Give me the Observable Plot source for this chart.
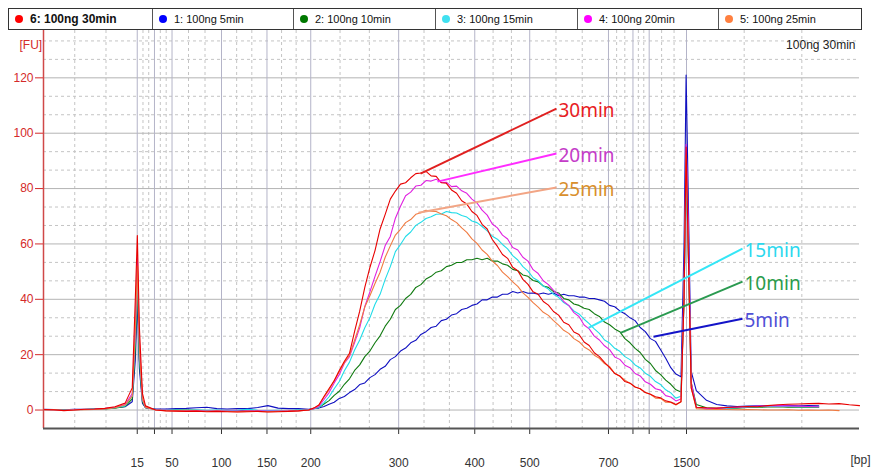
<!DOCTYPE html>
<html><head><meta charset="utf-8">
<script src="https://cdn.jsdelivr.net/npm/d3@7"></script>
<script src="https://cdn.jsdelivr.net/npm/@observablehq/plot@0.6"></script>
<style>
body{margin:0;background:#fff;width:871px;height:471px;overflow:hidden;font-family:"Liberation Sans",Arial,sans-serif}
#legend{position:relative;height:30px;width:871px}
#bar{position:absolute;left:8px;top:8px;width:854px;height:22px;border:1px solid #333;box-sizing:border-box;display:flex}
.cell{box-sizing:border-box;height:20px;border-right:1px solid #555;display:flex;align-items:center;font-size:11px;color:#111;white-space:nowrap}
.cell:last-child{border-right:none;flex:1}
.dot{display:inline-block;width:8px;height:8px;border-radius:50%;margin-left:6px;margin-right:7px}
#chart svg{display:block}
</style></head>
<body>
<div id="legend"><div id="bar"></div></div>
<div id="chart"></div>
<script>
// ---- data ----
const legendLabels = ["6: 100ng 30min","1: 100ng 5min","2: 100ng 10min","3: 100ng 15min","4: 100ng 20min","5: 100ng 25min"];
const legendColors = ["#ff0000","#0000ff","#007800","#40e0f0","#ff00ff","#ff8040"];
const legendWidths = [144,141,142,142,141,0];

const ladderSize  = [15,25,50,100,150,200,300,400,500,700,850,1000,1500];
const ladderTime  = [29.19,30.88,32.6,37.45,41.91,46.2,54.82,62.28,67.67,75.39,77.79,79.38,83.04];
const ladderLabel = ["15","","50","100","150","200","300","400","500","700","","","1500"];
const yTicks = [0,20,40,60,80,100,120];

const times = [
20,21,22,23,24,25,26,27,28,28.7,
29,29.2,29.4,29.7,30,31,32,33,34,35,
36,37,38,39,40,41,42,43,44,45,
46,46.5,47,47.5,48,48.5,49,49.5,50,50.5,
51,51.5,52,52.5,53,53.5,54,54.5,55,55.5,
56,56.5,57,57.5,58,58.5,59,59.5,60,60.5,
61,61.5,62,62.5,63,63.5,64,64.5,65,65.5,
66,66.5,67,67.5,68,68.5,69,69.5,70,70.5,
71,71.5,72,72.5,73,73.5,74,74.5,75,75.5,
76,76.5,77,77.5,78,78.5,79,79.5,80,80.5,
81,81.5,82,
82.5,82.8,83,83.2,83.5,84,
85,86,87,88,89,90,91,92,93,94,95,96,97,98,99,100];

const fu30 = [
0.2,0.1,-0.2,0,0.3,0.4,0.6,1.2,2.5,8,
40,63,30,6,1.5,0,-0.3,-0.4,-0.5,-0.4,
-0.6,-0.5,-0.6,-0.7,-0.6,-0.5,-0.7,-0.6,-0.5,-0.3,
0,0.7,1.8,4.9,7.8,10.6,14.3,17.6,20.5,28.4,
35.7,44.3,51.5,57.6,65.4,70.7,76.2,79.1,81.6,82.1,
83.9,85.4,85.6,86.2,84.6,84.4,82.1,81.9,79.5,78.3,
75.6,74.4,71.7,70.3,67.1,65.4,61.6,59.1,56.2,54.8,
51.6,50.3,47.2,45.4,42.7,41.8,39.2,37.9,35.6,34.3,
31.7,30.8,28.2,27.3,24.6,23.3,20.7,19.3,17.2,15.3,
13.2,12.3,10.3,9.7,8.3,7.7,6.3,5.7,4.8,4.4,
3.3,2.9,2,
3,40,95,60,8,1,
0.8,0.7,0.9,1.1,1.3,1.2,1.6,1.9,2.1,2.2,2.3,2.4,2.2,2.3,1.9,1.6];

const fu20 = [
0.1,0,-0.1,0.1,0.2,0.3,0.5,1,2,6,
30,55,25,4,1,0.1,0,-0.2,-0.3,-0.2,
-0.4,-0.3,-0.4,-0.4,-0.3,-0.3,-0.4,-0.4,-0.3,-0.2,
0,0.5,1.3,3.8,6.3,9.8,12.8,16.9,19.3,24.4,
29.7,37.4,42.7,48.3,53.6,59.4,62.7,69.3,73.6,77.4,
78.7,80.9,81.2,82.9,82.7,83.4,82.2,82.3,80.7,80.9,
79.2,78.3,76.2,74.8,72.2,70.4,67.2,65.8,63.2,61.8,
58.7,57.8,55.2,53.8,50.7,49.3,46.7,45.3,43.2,41.8,
39.2,37.8,35.2,33.8,30.7,29.3,26.7,25.3,23.2,21.8,
19.2,18.3,16.2,15.3,13.2,12.3,10.2,9.3,7.7,7.2,
5.2,4.7,3.3,
4,45,96,70,10,1,
0.5,0.6,0.8,1.0,1.2,1.4,1.5,1.6,1.5,1.4,1.3,1.2,null,null,null,null];

const fu25 = [
0,0.1,-0.1,0,0.1,0.2,0.4,0.8,1.8,5,
28,52,22,4,1,0,-0.2,-0.3,-0.4,-0.4,
-0.5,-0.4,-0.5,-0.6,-0.5,-0.5,-0.6,-0.5,-0.4,-0.3,
0,0.7,1.8,4.7,7.3,10.7,13.8,17.2,19.8,25.2,
30.8,37.2,41.3,45.7,49.8,55.2,59.3,63.2,65.3,67.7,
68.8,70.7,71.3,72.2,71.8,71.7,70.8,70.2,68.8,67.7,
65.8,64.2,61.8,60.2,57.8,56.2,53.8,52.2,49.8,48.2,
46.3,44.7,42.3,40.7,38.8,37.2,35.3,34.2,32.3,30.7,
28.8,27.7,25.8,24.7,22.8,21.7,19.8,18.7,16.8,15.7,
13.3,12.2,10.8,9.7,8.3,7.7,6.3,5.7,4.3,4.2,
2.8,2.7,1.8,
3,42,92,60,8,0.5,
0.3,0.2,0.2,0.1,0.2,0.1,0,0,0.1,-0.1,0,-0.1,0,-0.2,null,null];

const fu15 = [
0.1,0.2,0,0.1,0.2,0.3,0.4,0.8,1.5,5,
26,50,20,3.5,1,0.2,0.1,0,-0.1,0,
-0.1,0,-0.2,-0.1,0.3,-0.1,-0.2,-0.1,-0.2,0,
0,0.5,0.9,2.7,4.8,7.7,10.3,14.2,17.3,21.7,
25.3,29.7,33.3,38.2,41.8,47.2,51.8,57.2,59.8,62.7,
64.3,66.7,67.8,69.2,69.8,70.7,70.8,71.7,71.3,71.2,
70.3,69.7,68.3,67.7,66.3,64.7,62.8,61.7,59.8,58.2,
55.8,54.2,51.8,50.2,47.8,46.7,44.8,43.7,41.8,40.7,
38.8,37.7,35.8,34.7,32.8,31.2,29.3,27.7,25.3,24.2,
22.3,21.2,19.3,18.2,16.3,15.2,13.3,12.2,10.3,9.2,
7.3,6.2,4.3,
5,40,85,60,9,1,
0.4,0.5,0.6,0.8,1.0,1.2,1.3,1.4,1.3,1.2,1.3,1.2,null,null,null,null];

const fu10 = [
0.2,0.1,0.1,0.2,0.2,0.3,0.4,0.7,1.3,4,
22,46,18,3,0.8,0.2,0.1,0,0,-0.1,
-0.2,-0.2,-0.3,-0.3,0,-0.3,-0.3,-0.4,-0.3,-0.1,
0,0.5,0.9,2.2,3.4,5.3,6.8,9.3,11.3,14.3,
16.3,19.3,21.3,24.3,26.8,30.3,32.8,36.3,37.8,40.3,
41.8,44.3,45.3,47.3,48.3,49.8,50.3,51.8,52.3,53.3,
53.3,54.3,54.3,54.8,54.3,54.8,53.8,53.8,52.8,52.3,
50.8,50.3,48.8,48.3,46.8,46.3,44.8,44.3,42.8,42.3,
40.3,39.8,38.3,37.8,36.8,36.3,34.8,33.8,31.8,30.8,
29.3,28.3,25.8,24.3,22.3,20.8,18.3,16.8,14.3,12.8,
10.8,9.3,7.3,
6.5,40,88,60,10,2,
0.8,0.6,0.6,0.7,0.9,1.0,1.1,1.2,1.0,1.1,1.0,1.0,null,null,null,null];

const fu5 = [
0.3,0.2,0.1,0.3,0.3,0.4,0.5,0.8,1.2,3,
18,40,15,2.5,0.8,0.4,0.4,0.5,0.6,0.8,
1.0,0.5,0.4,0.5,0.5,0.9,1.6,0.7,0.5,0.5,
0.3,0.6,0.7,1.3,2.1,2.8,4.2,4.9,6.3,7.4,
9.2,9.8,11.7,12.8,14.7,15.8,18.2,19.3,21.3,22.4,
24.3,25.2,27.3,28.3,29.8,30.3,32.3,32.8,34.3,34.8,
36.3,36.8,37.8,38.3,39.8,39.8,40.8,40.8,41.8,41.8,
42.8,42.3,42.8,42.2,42.3,41.8,42.3,41.8,42.3,41.3,
41.8,41.3,41.3,40.8,40.8,40.3,40.3,39.8,39.3,37.8,
37.3,35.8,34.8,33.3,32.3,29.8,28.3,25.8,24.8,21.8,
18.7,15.3,13,
12,60,121,80,14,7,
3.5,2,1.5,1.3,1.4,1.5,1.6,1.5,1.7,1.5,1.6,1.5,null,null,null,null];

const seriesValues = [fu5, fu10, fu15, fu20, fu25, fu30];
const seriesColors = ["#1010c0","#107a10","#20dce8","#e020e0","#f07a40","#e80000"];

const annLabel = ["30min","20min","25min","15min","10min","5min"];
const annT1 = [56.96,58.63,56.76,73.43,76.57,79.80];
const annV1 = [85.4,82.5,71.3,29.7,27.9,26.5];
const annT2 = [70.29,70.29,70.29,88.53,88.53,88.53];
const annV2 = [108.9,92.7,80.4,58.3,46.4,33.0];
const annLineColor = ["#e02020","#ff2cff","#f2a585","#34e6f6","#2a9a50","#1414c8"];
const annTextColor = ["#e81c24","#c43cc8","#d98f2c","#2cd8ee","#2a9c4c","#5050d6"];

const xDomain = [20,100];
const yDomain = [-6.67,137.1];

// ---- legend ----
const bar = document.getElementById("bar");
legendLabels.forEach((lab,i)=>{
  const c = document.createElement("div");
  c.className = "cell";
  if (legendWidths[i]) c.style.width = legendWidths[i] + "px";
  const d = document.createElement("span"); d.className="dot"; d.style.background = legendColors[i];
  const t = document.createElement("span"); t.textContent = lab;
  if (i===0){ t.style.fontWeight="bold"; t.style.fontSize="12px"; }
  c.appendChild(d); c.appendChild(t); bar.appendChild(c);
});

// ---- grid helpers ----
const xBounds = [xDomain[0], ...ladderTime, xDomain[1]];
const xMinor = [];
for (let i=0;i<xBounds.length-1;i++){const a=xBounds[i],b=xBounds[i+1]; xMinor.push(a+(b-a)/3, a+2*(b-a)/3);}
const yMinor = [];
for (let m=-20;m<=140;m+=20){[m+20/3,m+40/3].forEach(v=>{ if(v>yDomain[0]+0.1 && v<yDomain[1]) yMinor.push(v); });}
const labelByTime = new Map(ladderTime.map((t,i)=>[t,ladderLabel[i]]));

const lines = seriesValues.map((vals,k)=>Plot.line(times.map((t,i)=>({t, v: vals[i]})),
  {x:"t", y:"v", stroke: seriesColors[k], strokeWidth: 1.1}));

const ann = annLabel.map((l,i)=>({l, t1:annT1[i], v1:annV1[i], t2:annT2[i], v2:annV2[i], lc:annLineColor[i], tc:annTextColor[i]}));

const chart = Plot.plot({
  width: 871, height: 441,
  marginTop: 0, marginLeft: 43, marginRight: 12, marginBottom: 43,
  style: {fontFamily: "Liberation Sans, Arial, sans-serif", fontSize: "12px", background: "#fff"},
  x: {domain: xDomain, label: null},
  y: {domain: yDomain, label: null},
  marks: [
    Plot.ruleY(yMinor, {stroke:"#c4c4c4", strokeDasharray:"3,3"}),
    Plot.ruleX(xMinor, {stroke:"#c4c4c4", strokeDasharray:"3,3"}),
    Plot.ruleY(yTicks, {stroke:"#b4b4b4"}),
    Plot.ruleX(ladderTime, {stroke:"#b4b4c8"}),
    ...lines,
    Plot.link(ann, {x1:"t1", y1:"v1", x2:"t2", y2:"v2", stroke: d=>d.lc, strokeWidth: 2}),
    Plot.text(ann, {x:"t2", y:"v2", text:"l", fill: d=>d.tc, fontSize: 19, fontFamily:"Noto Sans", textAnchor:"start", dx: 2, dy: 2}),
    Plot.axisY({ticks: yTicks, tickSize: 8, tickPadding: 2, color: "#d42a2a", label: null}),
    Plot.axisX({ticks: ladderTime, tickFormat: d=>labelByTime.get(d), tickSize: 6, tickPadding: 24, color: "#333", label: null}),
    Plot.ruleX([xDomain[0]], {stroke:"#d04848", strokeWidth: 1.5}),
    Plot.ruleY([yDomain[0]], {stroke:"#555", strokeWidth: 2}),
    Plot.text(["[FU]"], {frameAnchor:"top-left", dx:-24, dy:10, fill:"#d42a2a", fontSize: 12}),
    Plot.text(["100ng 30min"], {frameAnchor:"top-right", dx:-4, dy:10, textAnchor:"end", fill:"#222", fontSize: 12}),
    Plot.text(["[bp]"], {frameAnchor:"bottom-right", dx:11, dy:35, textAnchor:"end", fill:"#333", fontSize: 12})
  ]
});
document.getElementById("chart").appendChild(chart);
</script>
</body></html>
